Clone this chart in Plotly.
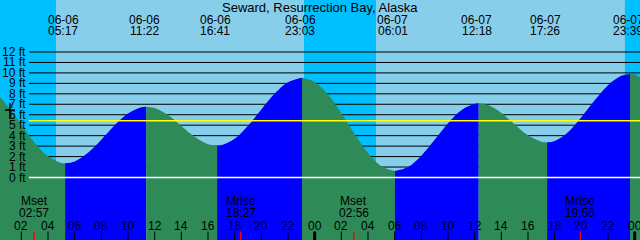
import plotly.graph_objects as go

# ---------------- data ----------------
title_text = "Seward, Resurrection Bay, Alaska"

# tide extremes (hours since 06-06 00:00) and heights in ft
prev_high_hour = -1.5
prev_high_ft = 9.1
tide_dates = ["06-06", "06-06", "06-06", "06-06", "06-07", "06-07", "06-07", "06-07"]
tide_times = ["05:17", "11:22", "16:41", "23:03", "06:01", "12:18", "17:26", "23:39"]
tide_heights = [1.36, 6.77, 3.04, 9.54, 0.62, 7.09, 3.36, 9.9]
tide_kind = ["low", "high", "low", "high", "low", "high", "low", "high"]

# hourly tide heights (hours -1 .. 50)
hourly_hours = list(range(-1, 51))
hourly_ft = [9.00, 8.20, 6.78, 5.04, 3.33, 2.02, 1.39, 1.54, 2.36, 3.61,
             4.99, 6.12, 6.72, 6.64, 5.97, 4.93, 3.89, 3.19, 3.08, 3.70,
             4.94, 6.50, 8.02, 9.11, 9.54, 9.14, 7.93, 6.14, 4.15, 2.34,
             1.08, 0.62, 1.00, 2.09, 3.60, 5.18, 6.43, 7.05, 6.92, 6.17,
             5.07, 4.03, 3.43, 3.49, 4.33, 5.75, 7.38, 8.83, 9.73, 9.84,
             8.98, 7.29]

# moon events
moon_events = ["Mset", "Mrise", "Mset", "Mrise"]
moon_days = [0, 0, 1, 1]
moon_times = ["02:57", "18:27", "02:56", "19:56"]

# sun (night = before sunrise / after sunset)
sunrise_times = ["04:36", "04:36"]
sunset_times = ["23:12", "23:16"]

ft_levels = list(range(0, 13))
ft_labels = [f"{v} ft" for v in ft_levels]
mean_level_ft = 5.43

hour_ticks = list(range(2, 25, 2))

# ---------------- helpers ----------------
def hm(s):
    h, m = s.split(":")
    return int(h) + int(m) / 60.0

def day_of(d):
    return 0 if d == "06-06" else 1

X0, X1 = 0.4, 48.4
Y0, Y1 = -5.975, 16.97
PX_PER_H = 640 / (X1 - X0)

ext_hours = [prev_high_hour] + [day_of(d) * 24 + hm(t) for d, t in zip(tide_dates, tide_times)]
ext_ft = [prev_high_ft] + tide_heights

# merge hourly readings with extremes
pts = [(h, v) for h, v in zip(hourly_hours, hourly_ft)
       if all(abs(h - e) > 0.15 for e in ext_hours) and h > ext_hours[0]]
pts += list(zip(ext_hours, ext_ft))
pts.sort()

GREEN = "#2E8B57"
BLUE = "#0000FF"
DAY = "#87CEEB"
NIGHT = "#00BFFF"

fig = go.Figure()

# segments between extremes (falling = green, rising = blue)
bounds = ext_hours + [pts[-1][0]]
for i in range(len(bounds) - 1):
    a, b = bounds[i], bounds[i + 1]
    seg = [(h, v) for h, v in pts if a - 1e-9 <= h <= b + 1e-9]
    xs = [p[0] for p in seg]
    ys = [p[1] for p in seg]
    falling = ys[-1] < ys[0]
    col = GREEN if falling else BLUE
    fig.add_trace(go.Scatter(x=[xs[0], xs[-1]], y=[Y0 - 2, Y0 - 2], mode="lines",
                             line=dict(width=0), showlegend=False, hoverinfo="skip"))
    fig.add_trace(go.Scatter(x=xs, y=ys, mode="lines", line=dict(width=0, shape="spline", color=col),
                             fill="tonexty", fillcolor=col, showlegend=False, hoverinfo="skip"))

shapes = []
# night bands
shapes.append(dict(type="rect", xref="x", yref="paper", x0=X0 - 1, x1=hm(sunrise_times[0]),
                   y0=0, y1=1, fillcolor=NIGHT, line=dict(width=0), layer="below"))
shapes.append(dict(type="rect", xref="x", yref="paper", x0=hm(sunset_times[0]), x1=24 + hm(sunrise_times[1]),
                   y0=0, y1=1, fillcolor=NIGHT, line=dict(width=0), layer="below"))
shapes.append(dict(type="rect", xref="x", yref="paper", x0=24 + hm(sunset_times[1]), x1=X1 + 1,
                   y0=0, y1=1, fillcolor=NIGHT, line=dict(width=0), layer="below"))
# grid lines
gx0 = 29 / 640
for v in ft_levels[1:]:
    shapes.append(dict(type="line", xref="paper", yref="y", x0=gx0, x1=1, y0=v, y1=v,
                       line=dict(color="black", width=1), layer="below"))
shapes.append(dict(type="line", xref="paper", yref="y", x0=gx0, x1=1, y0=0, y1=0,
                   line=dict(color="white", width=1.5), layer="above"))
shapes.append(dict(type="line", xref="paper", yref="y", x0=gx0, x1=1, y0=mean_level_ft, y1=mean_level_ft,
                   line=dict(color="yellow", width=1.5), layer="above"))

# bottom hour ticks
tick_h = 8.5 / 240
for day in (0, 1):
    for h in hour_ticks:
        t = day * 24 + h
        shapes.append(dict(type="line", xref="x", yref="paper", x0=t, x1=t, y0=0, y1=tick_h,
                           line=dict(color="black", width=3 if h == 24 else 1), layer="above"))
# moon ticks
for d, t in zip(moon_days, moon_times):
    mt = d * 24 + hm(t)
    shapes.append(dict(type="line", xref="x", yref="paper", x0=mt, x1=mt, y0=0, y1=tick_h,
                       line=dict(color="red", width=1.5), layer="above"))

# current-level cross
cx = X0 + 10 / PX_PER_H
shapes.append(dict(type="line", xref="x", yref="y", x0=X0 + 5 / PX_PER_H, x1=X0 + 15 / PX_PER_H,
                   y0=6.45, y1=6.45, line=dict(color="black", width=1.5), layer="above"))
shapes.append(dict(type="line", xref="x", yref="y", x0=cx, x1=cx, y0=5.6, y1=7.1,
                   line=dict(color="black", width=1.5), layer="above"))

FONT = "Liberation Sans, Arial, sans-serif"
ann = []
ann.append(dict(text=title_text, xref="paper", yref="paper", x=0.5, y=1 - 7.5 / 240,
                xanchor="center", yanchor="middle", showarrow=False,
                font=dict(family=FONT, size=13, color="black")))
for d, t, h in zip(tide_dates, tide_times, ext_hours[1:]):
    ann.append(dict(text=d, xref="x", yref="paper", x=h, y=1 - 19.5 / 240, xshift=-2,
                    xanchor="center", yanchor="middle", showarrow=False,
                    font=dict(family=FONT, size=12, color="black")))
    ann.append(dict(text=t, xref="x", yref="paper", x=h, y=1 - 31.5 / 240, xshift=-2,
                    xanchor="center", yanchor="middle", showarrow=False,
                    font=dict(family=FONT, size=12, color="black")))
for v, lab in zip(ft_levels, ft_labels):
    ann.append(dict(text=lab, xref="paper", yref="y", x=27.5 / 640, y=v,
                    xanchor="right", yanchor="middle", showarrow=False,
                    font=dict(family=FONT, size=12, color="black")))
for day in (0, 1):
    for h in hour_ticks:
        t = day * 24 + h
        ann.append(dict(text=f"{h % 24:02d}", xref="x", yref="paper", x=t, y=(240 - 225.7) / 240,
                        xanchor="center", yanchor="middle", showarrow=False,
                        font=dict(family=FONT, size=12, color="black")))
for ev, d, t in zip(moon_events, moon_days, moon_times):
    mt = d * 24 + hm(t)
    ann.append(dict(text=ev, xref="x", yref="paper", x=mt, y=(240 - 201.3) / 240,
                    xanchor="center", yanchor="middle", showarrow=False,
                    font=dict(family=FONT, size=12, color="black")))
    ann.append(dict(text=t, xref="x", yref="paper", x=mt, y=(240 - 213) / 240,
                    xanchor="center", yanchor="middle", showarrow=False,
                    font=dict(family=FONT, size=12, color="black")))

fig.update_layout(
    width=640, height=240,
    margin=dict(l=0, r=0, t=0, b=0, pad=0),
    paper_bgcolor=DAY, plot_bgcolor=DAY,
    xaxis=dict(range=[X0, X1], visible=False, showgrid=False, zeroline=False, fixedrange=True),
    yaxis=dict(range=[Y0, Y1], visible=False, showgrid=False, zeroline=False, fixedrange=True),
    shapes=shapes, annotations=ann, showlegend=False,
)

fig.write_html("out.html", config={"displayModeBar": False})
